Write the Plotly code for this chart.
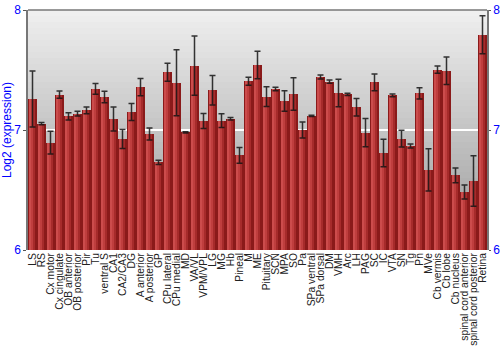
import plotly.graph_objects as go

regions = ["LS", "RS", "Cx motor", "Cx cingulate", "OB anterior", "OB posterior", "Pir", "Tu",
           "ventral S", "CA1", "CA2/CA3", "DG", "A anterior", "A posterior", "GP", "CPu lateral",
           "CPu medial", "MD", "VA/VL", "VPM/VPL", "LG", "MG", "Hb", "Pineal", "M", "ME",
           "Pituitary", "SCN", "MPA", "SO", "Pa", "SPa ventral", "SPa dorsal", "DM", "VMH", "Arc",
           "LH", "PAG", "SC", "IC", "VTA", "SN", "Tg", "Pn", "MVe", "Cb vermis", "Cb lobe",
           "Cb nucleus", "spinal cord anterior", "spinal cord posterior", "Retina"]

expression = [7.258, 7.053, 6.894, 7.294, 7.114, 7.136, 7.164, 7.342,
              7.275, 7.092, 6.925, 7.150, 7.358, 6.967, 6.730, 7.481,
              7.394, 6.980, 7.536, 7.075, 7.331, 7.078, 7.094, 6.789, 7.406, 7.542,
              7.278, 7.342, 7.242, 7.300, 7.000, 7.117, 7.442, 7.403, 7.308, 7.297,
              7.189, 6.978, 7.397, 6.808, 7.289, 6.928, 6.867, 7.306, 6.667, 7.503, 7.494,
              6.622, 6.483, 6.575, 7.794]

error = [0.233, 0.010, 0.095, 0.030, 0.030, 0.020, 0.028, 0.045,
         0.047, 0.100, 0.080, 0.070, 0.072, 0.050, 0.017, 0.075,
         0.275, 0.005, 0.247, 0.063, 0.123, 0.058, 0.011, 0.066, 0.033, 0.115,
         0.082, 0.014, 0.086, 0.136, 0.067, 0.005, 0.017, 0.014, 0.114, 0.010,
         0.073, 0.117, 0.070, 0.115, 0.012, 0.069, 0.017, 0.047, 0.176, 0.030, 0.115,
         0.062, 0.058, 0.211, 0.158]

y_ticks = [6, 7, 8]

fig = go.Figure()

# layered bars to mimic the cylindrical shading
layers = [
    dict(width=0.92, offset=-0.46, color="#8a1a1a"),
    dict(width=0.70, offset=-0.44, color="#a62b2b"),
    dict(width=0.45, offset=-0.40, color="#bf3e3e"),
    dict(width=0.22, offset=-0.34, color="#cc4c4c"),
]
for lay in layers:
    fig.add_trace(go.Bar(x=regions, y=expression, width=lay["width"], offset=lay["offset"],
                         marker=dict(color=lay["color"], line=dict(width=0)),
                         hoverinfo="skip", showlegend=False))

fig.add_trace(go.Scatter(x=regions, y=expression, mode="markers",
                         marker=dict(size=0.1, color="rgba(0,0,0,0)"),
                         error_y=dict(type="data", array=error, visible=True,
                                      color="rgba(20,20,20,0.85)", thickness=1.5, width=3),
                         showlegend=False))

# invisible trace to activate the right-hand axis
fig.add_trace(go.Scatter(x=[regions[0]], y=[y_ticks[0]], yaxis="y2", mode="markers",
                         marker=dict(size=0.1, color="rgba(0,0,0,0)"),
                         hoverinfo="skip", showlegend=False))

# background gradient
n = 40
top = (240, 240, 240)
bot = (152, 152, 152)
shapes = []
for i in range(n):
    t = (i + 0.5) / n
    c = tuple(int(round(top[k] + (bot[k] - top[k]) * t)) for k in range(3))
    shapes.append(dict(type="rect", xref="x domain", yref="y domain",
                       x0=0, x1=1, y0=1 - (i + 1) / n, y1=1 - i / n,
                       fillcolor="rgb(%d,%d,%d)" % c, line=dict(width=0), layer="below"))
shapes.append(dict(type="line", xref="x domain", yref="y domain", x0=0, x1=1, y0=1, y1=1,
                   line=dict(color="#777777", width=1.5)))

fig.update_layout(
    width=500, height=350,
    margin=dict(l=28, r=13, t=10, b=100, autoexpand=False),
    paper_bgcolor="white", plot_bgcolor="rgba(0,0,0,0)",
    barmode="overlay", bargap=0,
    font=dict(family="Liberation Sans, Arial, sans-serif", size=12, color="#222222"),
    shapes=shapes,
    xaxis=dict(type="category", tickangle=-90, showgrid=False, ticks="",
               tickmode="array", tickvals=regions, ticktext=regions,
               tickfont=dict(size=10.3, color="#222222"), showline=False, automargin=False,
               range=[-0.5, len(regions) - 0.5]),
    yaxis=dict(range=[6, 8], tickvals=y_ticks, showgrid=True, gridcolor="white",
               gridwidth=1.5, zeroline=False, showline=True, linecolor="#777777",
               linewidth=1.5, ticks="outside", ticklen=3, tickcolor="#555555",
               tickfont=dict(size=12, color="blue"), automargin=False,
               title=dict(text="Log2 (expression)", font=dict(size=12, color="blue"), standoff=0)),
    yaxis2=dict(range=[6, 8], tickvals=y_ticks, overlaying="y", side="right", anchor="x",
                showgrid=False, zeroline=False, showline=True, linecolor="#777777",
                linewidth=1.5, ticks="outside", ticklen=2, tickcolor="#555555",
                tickfont=dict(size=12, color="blue"), automargin=False),
)

fig.write_html("out.html")
